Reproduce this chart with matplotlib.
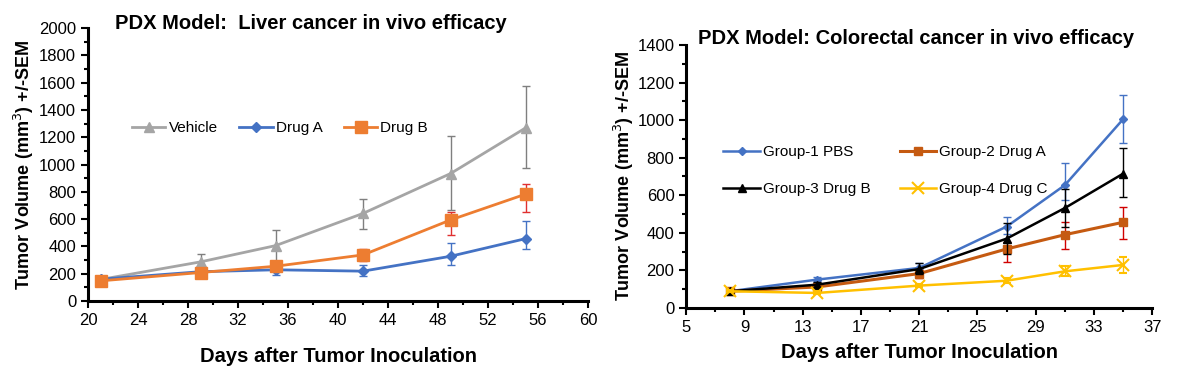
import numpy as np
import matplotlib.pyplot as plt
from matplotlib.ticker import MultipleLocator, FixedLocator

plt.rcParams['font.family'] = ['Liberation Sans', 'DejaVu Sans']

# Liver cancer data
dias_h = [21, 29, 35, 42, 49, 55]
vehiculo = [158, 287, 406, 642, 934, 1268]
vehiculo_up = [15, 61, 117, 107, 275, 311]
vehiculo_dn = [15, 54, 120, 112, 267, 292]
drogaA_h = [160, 215, 229, 219, 328, 457]
drogaA_up = [15, 18, 40, 46, 98, 132]
drogaA_dn = [15, 18, 39, 39, 65, 73]
drogaB_h = [148, 209, 255, 338, 594, 783]
drogaB_up = [12, 15, 37, 46, 60, 78]
drogaB_dn = [12, 15, 34, 48, 107, 129]

# Colorectal cancer data
dias_c = [8, 14, 21, 27, 31, 35]
g1 = [89, 151, 213, 433, 654, 1005]
g1_up = [8, 15, 26, 51, 116, 126]
g1_dn = [8, 15, 20, 40, 80, 127]
g2 = [89, 112, 183, 314, 390, 456]
g2_up = [8, 12, 18, 37, 67, 81]
g2_dn = [8, 12, 23, 69, 76, 89]
g3 = [89, 124, 207, 369, 532, 715]
g3_up = [8, 15, 32, 83, 103, 136]
g3_dn = [8, 15, 25, 82, 103, 125]
g4 = [89, 80, 119, 145, 195, 229]
g4_up = [6, 8, 10, 12, 26, 42]
g4_dn = [6, 8, 10, 12, 27, 43]

fig = plt.figure(figsize=(11.77, 3.84), dpi=100)

def estilo(ax):
    for s in ['top', 'right']:
        ax.spines[s].set_visible(False)
    for s in ['left', 'bottom']:
        ax.spines[s].set_linewidth(2.2)
    ax.tick_params(which='major', direction='out', length=5, width=1.5, labelsize=12)
    ax.tick_params(which='minor', direction='out', length=3, width=1.5)

# ---- Panel izquierdo ----
ax1 = fig.add_axes([0.0748, 0.216, 0.4248, 0.711])
e1 = ax1.errorbar(dias_h, vehiculo, yerr=[vehiculo_dn, vehiculo_up], color='#A5A5A5', marker='^',
                  markersize=7, lw=2, ecolor='#7F7F7F', elinewidth=1, capsize=3, zorder=2)
e2 = ax1.errorbar(dias_h, drogaA_h, yerr=[drogaA_dn, drogaA_up], color='#4472C4', marker='D',
                  markersize=5, lw=2, ecolor='#4472C4', elinewidth=1, capsize=3, zorder=3)
e3 = ax1.errorbar(dias_h, drogaB_h, yerr=[drogaB_dn, drogaB_up], color='#ED7D31', marker='s',
                  markersize=8, lw=2, ecolor='#E03030', elinewidth=1, capsize=3, zorder=4)
ax1.set_xlim(20, 60)
ax1.set_ylim(0, 2000)
ax1.xaxis.set_major_locator(MultipleLocator(4))
ax1.xaxis.set_minor_locator(MultipleLocator(2))
ax1.yaxis.set_major_locator(MultipleLocator(200))
ax1.yaxis.set_minor_locator(MultipleLocator(100))
estilo(ax1)
ax1.set_xlabel('Days after Tumor Inoculation', fontsize=14.5, fontweight='bold', labelpad=14)
ax1.set_ylabel('Tumor Volume (mm$^3$) +/-SEM', fontsize=13, fontweight='bold', labelpad=2)
ax1.legend([e1[0], e2[0], e3[0]], ['Vehicle', 'Drug A', 'Drug B'], loc='upper left',
           bbox_to_anchor=(0.06, 0.71), ncol=3, frameon=False, fontsize=11,
           handlelength=2.2, handletextpad=0.2, columnspacing=1.4)
fig.text(0.264, 0.94, 'PDX Model:  Liver cancer in vivo efficacy', ha='center', va='center',
         fontsize=14.5, fontweight='bold')

# ---- Panel derecho ----
ax2 = fig.add_axes([0.583, 0.198, 0.396, 0.685])
f1 = ax2.errorbar(dias_c, g1, yerr=[g1_dn, g1_up], color='#4472C4', marker='D', markersize=4,
                  lw=1.8, ecolor='#4472C4', elinewidth=1, capsize=3, zorder=2)
f2 = ax2.errorbar(dias_c, g2, yerr=[g2_dn, g2_up], color='#C55A11', marker='s', markersize=6,
                  lw=2.2, ecolor='#D00000', elinewidth=1, capsize=3, zorder=3)
f3 = ax2.errorbar(dias_c, g3, yerr=[g3_dn, g3_up], color='black', marker='^', markersize=6,
                  lw=1.8, ecolor='black', elinewidth=1, capsize=3, zorder=4)
f4 = ax2.errorbar(dias_c, g4, yerr=[g4_dn, g4_up], color='#FFC000', marker='x', markersize=8,
                  mew=1.5, lw=1.8, ecolor='#FFC000', elinewidth=1, capsize=3, zorder=5)
ax2.set_xlim(5, 37)
ax2.set_ylim(0, 1400)
ax2.xaxis.set_major_locator(FixedLocator(np.arange(5, 38, 4)))
ax2.xaxis.set_minor_locator(FixedLocator(np.arange(7, 37, 4)))
ax2.yaxis.set_major_locator(MultipleLocator(200))
ax2.yaxis.set_minor_locator(MultipleLocator(100))
estilo(ax2)
ax2.set_xlabel('Days after Tumor Inoculation', fontsize=14.5, fontweight='bold', labelpad=6)
ax2.set_ylabel('Tumor Volume (mm$^3$) +/-SEM', fontsize=13, fontweight='bold', labelpad=1)
ax2.legend([f1[0], f3[0], f2[0], f4[0]],
           ['Group-1 PBS', 'Group-3 Drug B', 'Group-2 Drug A', 'Group-4 Drug C'],
           loc='upper left', bbox_to_anchor=(0.05, 0.67), ncol=2, frameon=False, fontsize=11,
           handlelength=2.4, handletextpad=0.2, columnspacing=1.9, labelspacing=1.5)
fig.text(0.778, 0.901, 'PDX Model: Colorectal cancer in vivo efficacy', ha='center', va='center',
         fontsize=14.5, fontweight='bold')

fig.savefig('out.png', dpi=100)
